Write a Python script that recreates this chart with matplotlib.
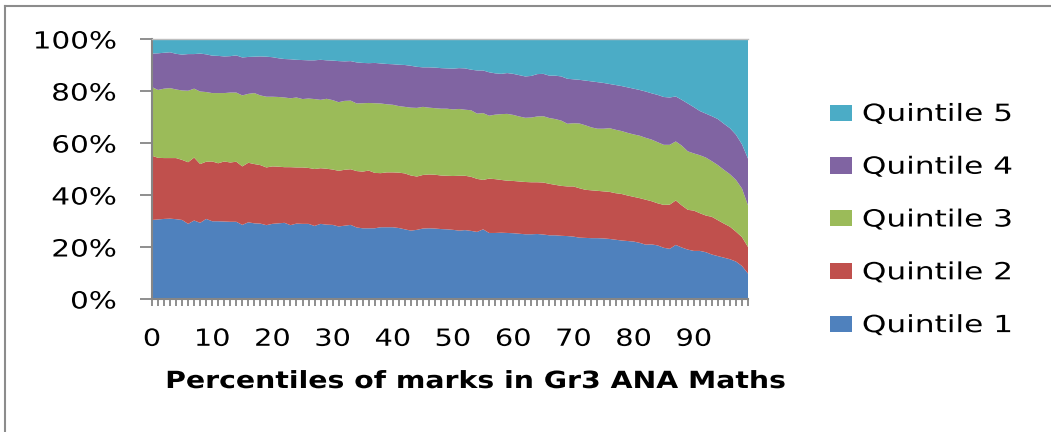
import numpy as np
import matplotlib
matplotlib.use("Agg")
import matplotlib.pyplot as plt
from matplotlib.patches import Patch
from matplotlib.lines import Line2D
from matplotlib.patheffects import AbstractPathEffect
from matplotlib.transforms import Affine2D

# percentiles of marks (0..99)
percentiles = np.arange(100)

# cumulative share (%) at the top of each quintile band
top_q1 = [
    30.4, 30.6, 30.8, 30.9, 30.7, 30.4, 28.9, 30.2, 29.3, 30.8,
    29.9, 29.9, 29.8, 29.7, 29.7, 28.5, 29.5, 29.1, 29.0, 28.4,
    28.9, 29.1, 29.3, 28.4, 29.0, 28.9, 28.9, 28.1, 28.9, 28.6,
    28.5, 27.9, 28.2, 28.5, 27.5, 27.2, 27.2, 27.2, 27.6, 27.6,
    27.6, 27.3, 26.8, 26.3, 26.6, 27.1, 27.2, 27.1, 26.9, 26.8,
    26.6, 26.3, 26.5, 26.2, 25.8, 26.8, 25.4, 25.4, 25.5, 25.4,
    25.3, 25.1, 24.9, 24.9, 25.0, 24.8, 24.5, 24.5, 24.3, 24.2,
    24.0, 23.6, 23.5, 23.4, 23.4, 23.3, 23.1, 22.8, 22.5, 22.3,
    22.1, 21.6, 20.9, 21.0, 20.6, 19.7, 19.3, 20.8, 19.8, 19.0,
    18.5, 18.5, 18.0, 17.1, 16.5, 15.9, 15.3, 14.4, 12.7, 9.8,
]
top_q2 = [
    55.1, 54.3, 54.2, 54.2, 54.2, 53.5, 52.6, 54.4, 51.9, 52.8,
    52.9, 52.2, 52.9, 52.5, 52.8, 51.0, 52.4, 51.9, 51.5, 50.6,
    51.0, 50.9, 50.7, 50.7, 50.6, 50.6, 50.4, 50.0, 50.3, 50.1,
    49.8, 49.3, 49.7, 49.9, 49.2, 49.0, 49.4, 48.5, 48.4, 48.7,
    48.7, 48.6, 48.3, 47.5, 47.1, 47.7, 47.9, 47.8, 47.5, 47.4,
    47.3, 47.4, 47.4, 47.0, 46.2, 45.8, 46.3, 46.1, 45.8, 45.5,
    45.4, 45.2, 45.0, 44.9, 44.9, 44.8, 44.3, 43.9, 43.5, 43.3,
    43.3, 42.6, 42.0, 41.8, 41.6, 41.4, 41.2, 40.7, 40.4, 39.8,
    39.3, 38.8, 38.2, 37.6, 36.8, 36.2, 36.3, 37.9, 36.0, 34.3,
    34.0, 33.0, 32.1, 31.6, 30.3, 29.0, 27.8, 25.9, 23.8, 20.0,
]
top_q3 = [
    81.5, 80.4, 80.9, 81.1, 80.6, 80.2, 80.1, 80.9, 79.8, 79.6,
    79.2, 79.2, 79.2, 79.4, 79.4, 78.3, 78.9, 79.2, 78.3, 77.8,
    77.8, 77.7, 77.5, 77.2, 77.5, 76.9, 77.1, 76.9, 76.6, 77.0,
    76.5, 75.7, 76.2, 76.3, 75.2, 75.3, 75.4, 75.3, 75.2, 74.9,
    74.7, 74.2, 73.9, 73.6, 73.5, 73.9, 73.6, 73.4, 73.2, 73.2,
    72.9, 73.1, 72.8, 72.6, 71.3, 71.5, 70.5, 70.9, 71.1, 71.2,
    70.8, 70.2, 69.7, 69.8, 70.2, 70.3, 69.6, 69.2, 68.6, 67.4,
    67.6, 67.5, 66.8, 66.0, 65.5, 65.5, 65.7, 65.1, 64.6, 63.9,
    63.3, 62.8, 62.0, 61.3, 60.3, 59.3, 59.3, 60.6, 59.0, 56.8,
    56.0, 55.3, 54.4, 53.0, 51.5, 49.7, 48.0, 45.8, 42.5, 36.0,
]
top_q4 = [
    94.4, 94.5, 94.7, 94.9, 94.3, 94.0, 94.2, 94.2, 94.4, 94.1,
    93.6, 93.5, 93.3, 93.4, 93.7, 92.9, 93.1, 93.2, 93.3, 93.2,
    93.0, 92.6, 92.3, 92.2, 92.0, 91.9, 91.8, 91.8, 92.0, 91.8,
    91.7, 91.5, 91.4, 91.5, 91.0, 90.8, 90.7, 90.8, 90.6, 90.4,
    90.3, 90.1, 90.0, 89.7, 89.3, 89.1, 89.1, 89.0, 88.8, 88.7,
    88.6, 88.8, 88.7, 88.2, 87.9, 87.9, 87.2, 86.8, 86.6, 86.9,
    86.6, 86.1, 85.6, 85.8, 86.5, 86.6, 85.9, 85.9, 85.6, 84.7,
    84.5, 84.3, 84.0, 83.7, 83.4, 83.1, 82.7, 82.3, 81.9, 81.4,
    80.9, 80.4, 79.8, 79.1, 78.5, 77.7, 77.5, 77.9, 76.6, 75.2,
    73.8, 72.3, 71.3, 70.3, 69.2, 67.4, 65.7, 63.2, 59.5, 54.0,
]
top_q5 = [100.0] * 100

series_names = ["Quintile 1", "Quintile 2", "Quintile 3", "Quintile 4", "Quintile 5"]
colors = ["#4F81BD", "#C0504D", "#9BBB59", "#8064A2", "#4BACC6"]

# per-quintile shares from the cumulative tops
tops = np.array([top_q1, top_q2, top_q3, top_q4, top_q5])
shares = np.diff(np.vstack([np.zeros(100), tops]), axis=0)


class WideText(AbstractPathEffect):
    """Draw text glyphs stretched horizontally about a left/center/right anchor."""

    def __init__(self, sx, anchor="left"):
        super().__init__()
        self.sx = sx
        self.anchor = anchor

    def draw_path(self, renderer, gc, tpath, affine, rgbFace=None):
        ext = tpath.get_extents()
        cx = {"left": 0.0, "center": (ext.x0 + ext.x1) / 2, "right": ext.x1}[self.anchor]
        stretch = Affine2D().translate(-cx, 0).scale(self.sx, 1).translate(cx, 0)
        renderer.draw_path(gc, tpath, stretch + affine, rgbFace)


plt.rcParams["font.family"] = ["DejaVu Sans"]
grey = "#868686"

fig = plt.figure(figsize=(10.51, 4.32), dpi=100)
ax = fig.add_axes([152 / 1051, 133 / 432, 596 / 1051, 260 / 432])

ax.stackplot(percentiles, shares, colors=colors, labels=series_names, linewidth=0)

ax.set_xlim(0, 99)
ax.set_ylim(0, 100)

ax.set_yticks(np.arange(0, 101, 20))
ax.set_yticklabels([f"{v}%" for v in range(0, 101, 20)])
ax.set_xticks(percentiles)
ax.set_xticklabels([str(p) if p % 10 == 0 else "" for p in percentiles])

ax.tick_params(axis="y", length=8.6, width=1.3, color=grey, pad=17, labelsize=17)
ax.tick_params(axis="x", length=5, width=1.3, color=grey, pad=15, labelsize=17)

for lbl in ax.get_yticklabels():
    lbl.set_path_effects([WideText(1.25, "right")])
for lbl in ax.get_xticklabels():
    lbl.set_path_effects([WideText(1.22, "center")])

ax.spines["right"].set_visible(False)
for side in ["left", "bottom"]:
    ax.spines[side].set_color(grey)
    ax.spines[side].set_linewidth(1.5)
ax.spines["top"].set_color("#BFBFBF")
ax.spines["top"].set_linewidth(1.0)

xlab = fig.text(476 / 1051, 1 - 381 / 432, "Percentiles of marks in Gr3 ANA Maths",
                ha="center", va="center", fontsize=17, fontweight="bold")
xlab.set_path_effects([WideText(1.2, "center")])

handles = [Patch(facecolor=c, edgecolor="none") for c in colors][::-1]
leg = fig.legend(handles, series_names[::-1], loc="center left",
                 bbox_to_anchor=(830 / 1051, 1 - 219.5 / 432), frameon=False,
                 fontsize=17, handlelength=0.95, handleheight=0.68,
                 handletextpad=0.4, labelspacing=1.22, borderpad=0, borderaxespad=0)
for t in leg.get_texts():
    t.set_path_effects([WideText(1.32, "left")])

# outer chart frame
fig.add_artist(Line2D([5 / 1051, 5 / 1051], [0, 1 - 6 / 432], color="#8C8C8C", lw=1.5))
fig.add_artist(Line2D([5 / 1051, 1], [1 - 6 / 432, 1 - 6 / 432], color="#8C8C8C", lw=1.5))

fig.savefig("out.png", dpi=100)
